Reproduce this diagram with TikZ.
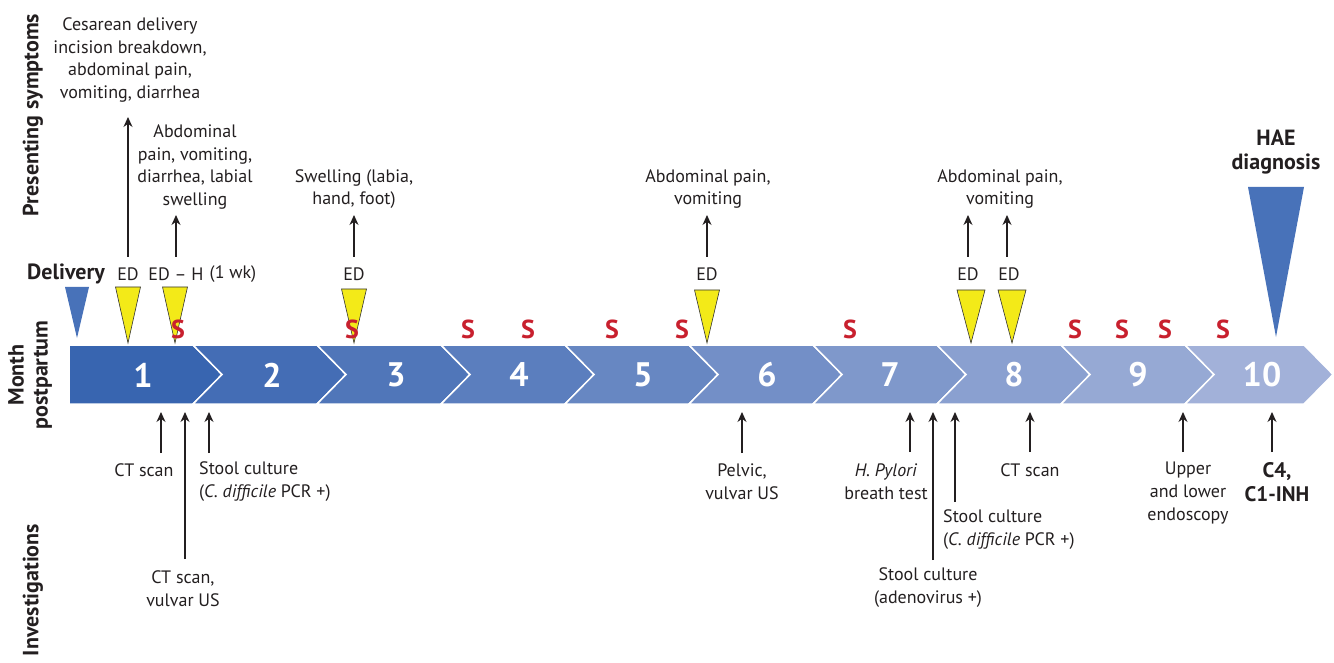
\documentclass[tikz,border=0pt]{standalone}
\usepackage{fontspec}
\setmainfont{PT Sans}
\usetikzlibrary{arrows.meta}
\definecolor{segA}{RGB}{56,101,176}
\definecolor{segB}{RGB}{162,177,217}
\definecolor{edyellow}{RGB}{243,234,24}
\definecolor{delblue}{RGB}{72,114,185}
\definecolor{sred}{RGB}{200,32,46}
\definecolor{txt}{RGB}{35,31,32}
\tikzset{
  lbl/.style={font=\fontsize{18}{22.8}\selectfont, align=center, text=txt, inner sep=0pt},
  lblL/.style={lbl, align=left, anchor=west},
  blbl/.style={lbl, font=\fontsize{22}{24}\selectfont\bfseries},
  sidelbl/.style={blbl, rotate=90},
  num/.style={font=\fontsize{34}{34}\selectfont\bfseries, text=white, inner sep=0pt},
  smark/.style={font=\fontsize{26}{26}\selectfont\bfseries, text=sred, inner sep=0pt},
  edtri/.style={fill=edyellow, draw=black!80, line width=0.6pt},
  deltri/.style={fill=delblue},
  arr/.style={-{Stealth[length=10pt,width=9pt]}, line width=1.1pt, draw=txt},
  segment/.style={draw=white, line width=1.5pt}
}
\begin{document}
\begin{tikzpicture}[x=1pt,y=-1pt]
\useasboundingbox (0,0) rectangle (1334,663);
% chevron band
\fill[segA, segment] (69,345) -- (193,345) -- (222,374.5) -- (193,404) -- (69,404) -- cycle;
\foreach \k in {2,...,10}{
  \pgfmathsetmacro{\R}{\k==10 ? 1333 : 222+(\k-1)*124}
  \pgfmathsetmacro{\Lt}{222+(\k-2)*124}
  \pgfmathsetmacro{\p}{(\k-1)*100/9}
  \fill[segB!\p!segA, segment] (\Lt-29,345) -- (\R-29,345) -- (\R,374.5) -- (\R-29,404) -- (\Lt-29,404) -- (\Lt,374.5) -- cycle;
}
\foreach \k/\x in {1/143,2/272,3/396,4/519,5/643,6/767,7/890,8/1014,9/1138,10/1262}{
  \node[num] (m\k) at (\x,375) {\k};
}
% side labels
\node[sidelbl] (presenting) at (33,115) {Presenting symptoms};
\node[sidelbl] (month) at (30,375) {Month\\postpartum};
\node[sidelbl] (invest) at (33,590) {Investigations};
% triangles
\fill[deltri] (65,287) -- (89,287) -- (77,338) -- cycle;
\foreach \x/\t/\w in {128/287/12.5,175/287/12.5,354/289/12.5,707/290/12.5,971/290/14,1012/290/14}{
  \draw[edtri] (\x-\w,\t) -- (\x+\w,\t) -- (\x,343) -- cycle;
}
\fill[deltri] (1248,187) -- (1304,187) -- (1276,337) -- cycle;
% S marks
\foreach \x [count=\i] in {178,352,468,528,612,682,850,1075,1122,1165,1223}{
  \node[smark] (s\i) at (\x,329) {S};
}
% top labels
\node[blbl] (delivery) at (66,274) {Delivery};
\node[lbl] (ed1) at (128,274) {ED};
\node[lbl] (ed2) at (176,274) {ED -- H};
\node[lbl] (wk) at (233,274) {(1 wk)};
\node[lbl] (ed3) at (354,274) {ED};
\node[lbl] (ed6) at (707,274) {ED};
\node[lbl] (ed8a) at (968,274) {ED};
\node[lbl] (ed8b) at (1009,274) {ED};
\node[lbl] (sym1) at (130,60) {Cesarean delivery\\incision breakdown,\\abdominal pain,\\vomiting, diarrhea};
\node[lbl] (sym2) at (195,167) {Abdominal\\pain, vomiting,\\diarrhea, labial\\swelling};
\node[lbl] (sym3) at (354,189) {Swelling (labia,\\hand, foot)};
\node[lbl] (sym6) at (708,189) {Abdominal pain,\\vomiting};
\node[lbl] (sym8) at (1000,189) {Abdominal pain,\\vomiting};
\node[blbl] (hae) at (1276,152) {HAE\\diagnosis};
% top arrows
\foreach \n/\x/\y in {a/128/117,b/176/215,c/354/215,d/707/215,e/968/215,f/1007/215}{
  \coordinate (ts\n) at (\x,257);
  \coordinate (te\n) at (\x,\y);
  \draw[arr] (ts\n) -- (te\n);
}
% bottom labels
\node[lbl] (inv1) at (144,470) {CT scan};
\node[lblL] (inv2) at (199,481.5) {Stool culture\\(\textit{C. difficile} PCR +)};
\node[lbl] (inv3) at (183,588.5) {CT scan,\\vulvar US};
\node[lbl] (inv4) at (742,481.5) {Pelvic,\\vulvar US};
\node[lbl] (inv5) at (886,481.5) {\textit{H. Pylori}\\breath test};
\node[lbl] (inv6) at (1030,470) {CT scan};
\node[lblL] (inv7) at (943,529.5) {Stool culture\\(\textit{C. difficile} PCR +)};
\node[lbl] (inv8) at (928,587.5) {Stool culture\\(adenovirus +)};
\node[lbl] (inv9) at (1188,493) {Upper\\and lower\\endoscopy};
\node[blbl, font=\fontsize{21}{24}\selectfont\bfseries] (inv10) at (1277,482) {C4,\\C1-INH};
% bottom arrows
\foreach \n/\x/\y in {a/161/453,b/185/559,c/209/453,d/742/453,e/910/452,f/933/560,g/955/502,h/1030/452,i/1183/452,j/1272/452}{
  \coordinate (bs\n) at (\x,\y);
  \coordinate (be\n) at (\x,412);
  \draw[arr] (bs\n) -- (be\n);
}
\end{tikzpicture}
\end{document}
